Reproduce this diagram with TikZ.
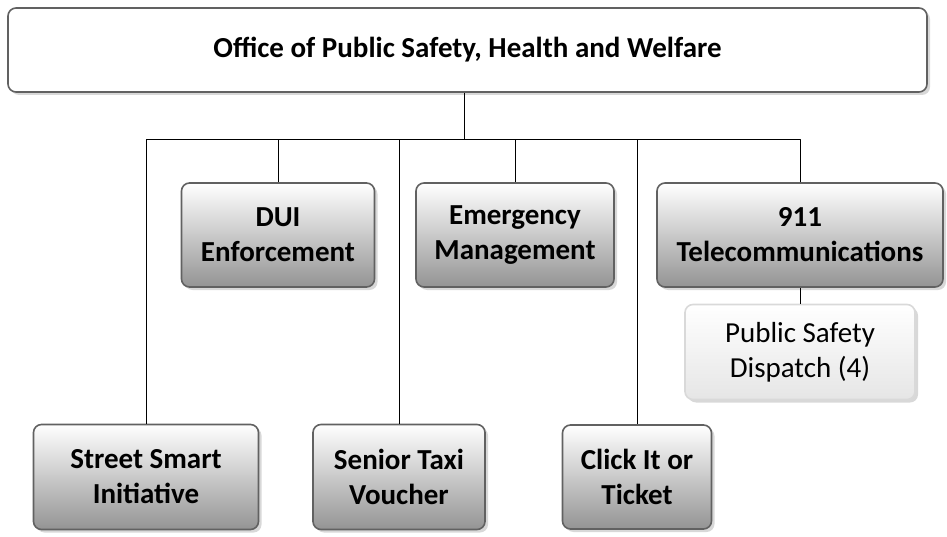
\documentclass[tikz,border=0pt]{standalone}
\usepackage{fontspec}
\setmainfont{Carlito}
\usetikzlibrary{shadows}
\begin{document}
\begin{tikzpicture}[x=1pt,y=-1pt,line join=round,
  unit/.style={draw=black!62,line width=1.6pt,rounded corners=8pt,
    top color=white,bottom color=black!42,
    drop shadow={shadow xshift=3pt,shadow yshift=-3pt,fill=black!30},
    align=center,inner sep=0pt,font=\fontsize{29}{35}\selectfont\bfseries},
  sub/.style={unit,draw=black!15,bottom color=black!10,
    font=\fontsize{29}{35}\selectfont},
  link/.style={line width=1pt}]
\useasboundingbox (0,0) rectangle (947,537);
% head office
\node[unit,top color=white,bottom color=white,minimum width=919pt,minimum height=84pt] (office) at (467.5,50) {Office of Public Safety, Health and Welfare};
\coordinate (bus) at (464,140);
% upper row
\node[unit,minimum width=193pt,minimum height=104pt] (dui) at (278,235) {DUI\\Enforcement};
\node[unit,minimum width=198pt,minimum height=104pt] (emg) at (515,235) {Emergency\\Management};
\node[unit,minimum width=286pt,minimum height=104pt] (tel) at (800,235) {911\\Telecommunications};
\node[sub,minimum width=230pt,minimum height=95pt] (psd) at (800,352) {Public Safety\\Dispatch (4)};
% lower row
\node[unit,minimum width=225pt,minimum height=105pt] (ssi) at (146,477) {Street Smart\\Initiative};
\node[unit,minimum width=172pt,minimum height=105pt] (stv) at (399,477) {Senior Taxi\\Voucher};
\node[unit,minimum width=149pt,minimum height=104pt] (cit) at (637,477) {Click It or\\Ticket};
% connectors
\draw[link] (office.south -| bus) -- (bus);
\foreach \n in {ssi,dui,stv,emg,cit,tel}
  \draw[link] (\n.north) |- (bus);
\draw[link] (tel.south) -- (psd.north);
\end{tikzpicture}
\end{document}
